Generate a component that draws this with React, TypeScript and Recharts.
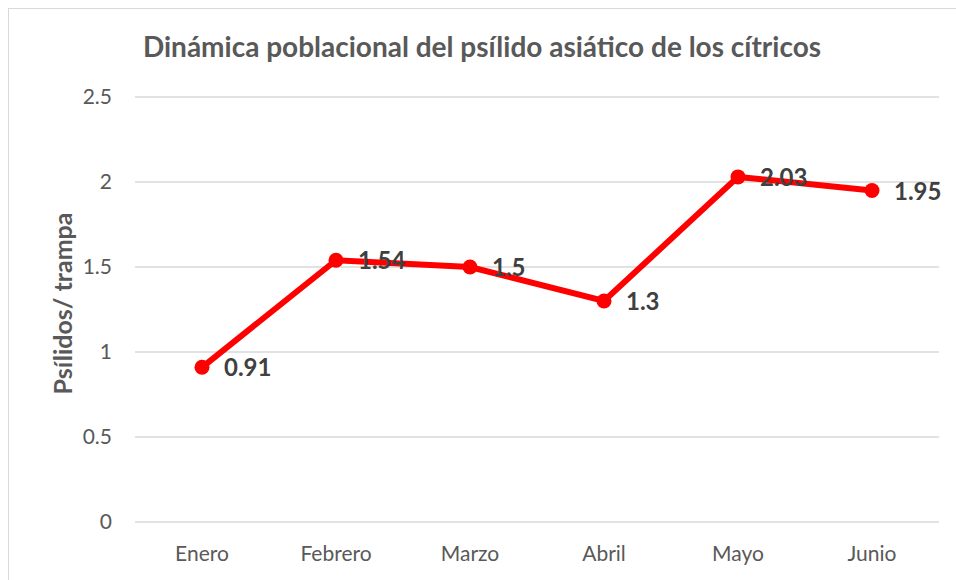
import React from 'react';
import { LineChart, Line, XAxis, YAxis, CartesianGrid, LabelList } from 'recharts';

const categories = ['Enero', 'Febrero', 'Marzo', 'Abril', 'Mayo', 'Junio'];
const values = [0.91, 1.54, 1.5, 1.3, 2.03, 1.95];
const yTicks = [0, 0.5, 1, 1.5, 2, 2.5];
const title = 'Dinámica poblacional del psílido asiático de los cítricos';
const yLabel = 'Psílidos/ trampa';

const data = categories.map((c, i) => ({ mes: c, v: values[i] }));

const FONT = 'Lato, "Open Sans", sans-serif';

const DataLabel = (props: any) => {
  const { x, y, value } = props;
  return (
    <text x={x + 22} y={y + 9} fill="#404040" fontSize={24} fontWeight={700} fontFamily={FONT} textAnchor="start">
      {value}
    </text>
  );
};

const YLabel = (props: any) => {
  const vb = props.viewBox || {};
  const cx = 72;
  const cy = vb.y + vb.height / 2 - 6;
  return (
    <text x={cx} y={cy} transform={`rotate(-90 ${cx} ${cy})`} textAnchor="middle"
      fill="#595959" fontSize={25} fontWeight={700} fontFamily={FONT}>
      {yLabel}
    </text>
  );
};

export default function App() {
  return (
    <div style={{ position: 'absolute', left: 0, top: 0, width: 956, height: 580, background: '#fff', overflow: 'hidden' }}>
      <div style={{ position: 'absolute', left: 8, top: 8, width: 1000, height: 700, border: '1px solid #d9d9d9', boxSizing: 'border-box' }} />
      <svg style={{ position: 'absolute', left: 0, top: 0 }} width={956} height={80}>
        <text x={482} y={57} textAnchor="middle" fill="#595959" fontSize={28} fontWeight={700} fontFamily={FONT}>
          {title}
        </text>
      </svg>
      <div style={{ position: 'absolute', left: 0, top: 0 }}>
        <LineChart width={956} height={580} data={data} margin={{ top: 97, right: 17, bottom: 0, left: 0 }}>
          <CartesianGrid vertical={false} stroke="#d9d9d9" strokeWidth={1.5} />
          <XAxis dataKey="mes" height={58} padding={{ left: 67, right: 67 }} axisLine={false} tickLine={false} tickSize={0} tickMargin={24}
            tick={{ fill: '#595959', fontSize: 21, fontFamily: FONT }} />
          <YAxis domain={[0, 2.5]} ticks={yTicks} width={135} axisLine={false} tickLine={false} tickSize={0} tickMargin={23}
            tick={{ fill: '#595959', fontSize: 21, fontFamily: FONT }} label={<YLabel />} />
          <Line type="linear" dataKey="v" stroke="#ff0000" strokeWidth={6} isAnimationActive={false}
            dot={{ r: 7.5, fill: '#ff0000', stroke: '#ff0000', strokeWidth: 0 }} activeDot={false}>
            <LabelList dataKey="v" content={<DataLabel />} />
          </Line>
        </LineChart>
      </div>
    </div>
  );
}
